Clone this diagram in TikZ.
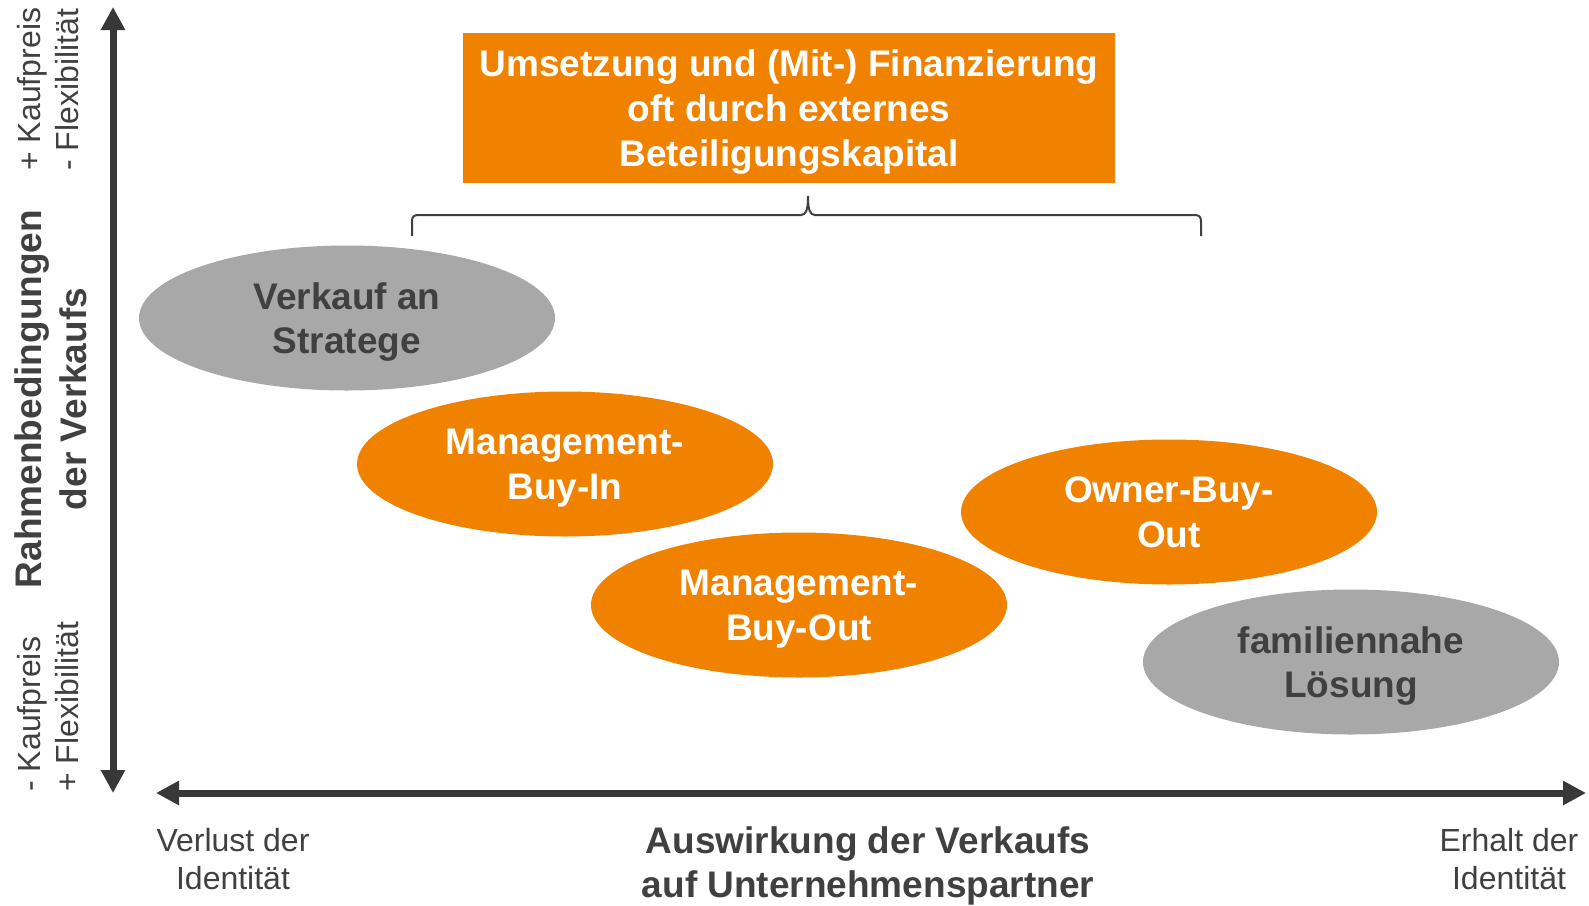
\documentclass[tikz,border=0pt]{standalone}
\usepackage{fontspec}
\setmainfont{Liberation Sans}
\usetikzlibrary{arrows.meta,shapes.geometric}

\definecolor{boxorange}{RGB}{240,130,0}
\definecolor{ovalgray}{RGB}{168,168,168}
\definecolor{axisgray}{RGB}{56,56,56}
\definecolor{textgray}{RGB}{64,64,64}

\begin{document}
\begin{tikzpicture}[x=0.5pt,y=-0.5pt, % pixel units, y downwards
    bigfont/.style={font=\fontsize{18.5}{22.3}\selectfont\bfseries},
    smallfont/.style={font=\fontsize{16}{19.3}\selectfont, text=textgray},
    oval/.style={ellipse, bigfont, minimum width=208pt, minimum height=72.5pt, inner sep=0pt, align=center, text depth=0pt},
    orangeoval/.style={oval, fill=boxorange, text=white},
    grayoval/.style={oval, fill=ovalgray, text=textgray},
    axis/.style={draw=axisgray, line width=3.5pt, {Triangle[length=11.5pt,width=11.5pt]}-{Triangle[length=11.5pt,width=11.5pt]}},
    brace/.style={draw=textgray, line width=1pt}]
    % Fix the page size
    \useasboundingbox (0,0) rectangle (1589,905);

    % Axes
    \coordinate (ytop) at (113,7);
    \coordinate (ybot) at (113,793);
    \coordinate (xleft) at (156,793);
    \coordinate (xright) at (1586,793);
    \draw[axis] (ybot) -- (ytop);
    \draw[axis] (xleft) -- (xright);

    % Axis labels
    \node[bigfont, text=textgray, align=center, rotate=90] (ylabel) at (51,399) {Rahmenbedingungen\\der Verkaufs};
    \node[smallfont, align=left, rotate=90, anchor=west, inner sep=0pt] (yhigh) at (48,171) {+ Kaufpreis\\- Flexibilität};
    \node[smallfont, align=left, rotate=90, anchor=west, inner sep=0pt] (ylow) at (48,792) {- Kaufpreis\\+ Flexibilität};
    \node[bigfont, text=textgray, align=center] (xlabel) at (868,866) {Auswirkung der Verkaufs\\auf Unternehmenspartner};
    \node[smallfont, align=center] (xlow) at (233,859) {Verlust der\\Identität};
    \node[smallfont, align=center] (xhigh) at (1509,859) {Erhalt der\\Identität};

    % Orange box on top
    \node[bigfont, fill=boxorange, text=white, align=center, minimum width=326pt, minimum height=75pt, inner sep=0pt, text depth=0pt] (kapital) at (789,108)
        {Umsetzung und (Mit-) Finanzierung\\oft durch externes\\Beteiligungskapital};

    % Brace under the box
    \coordinate (bl) at (412,236);
    \coordinate (br) at (1201,236);
    \coordinate (tip) at (808,196);
    \draw[brace] (bl) -- (412,221) .. controls (412,217) and (414,215) .. (418,215) -- (801,215)
        .. controls (806,215) and (808,210) .. (tip) .. controls (808,210) and (810,215) .. (815,215)
        -- (1195,215) .. controls (1199,215) and (1201,217) .. (1201,221) -- (br);

    % Options
    \node[grayoval] (strat) at (347,318) {Verkauf an\\Stratege};
    \node[orangeoval] (mbi) at (565,464) {Management-\\Buy-In};
    \node[orangeoval] (mbo) at (799,605) {Management-\\Buy-Out};
    \node[orangeoval] (obo) at (1169,512) {Owner-Buy-\\Out};
    \node[grayoval] (family) at (1351,662) {familiennahe\\Lösung};
\end{tikzpicture}
\end{document}
